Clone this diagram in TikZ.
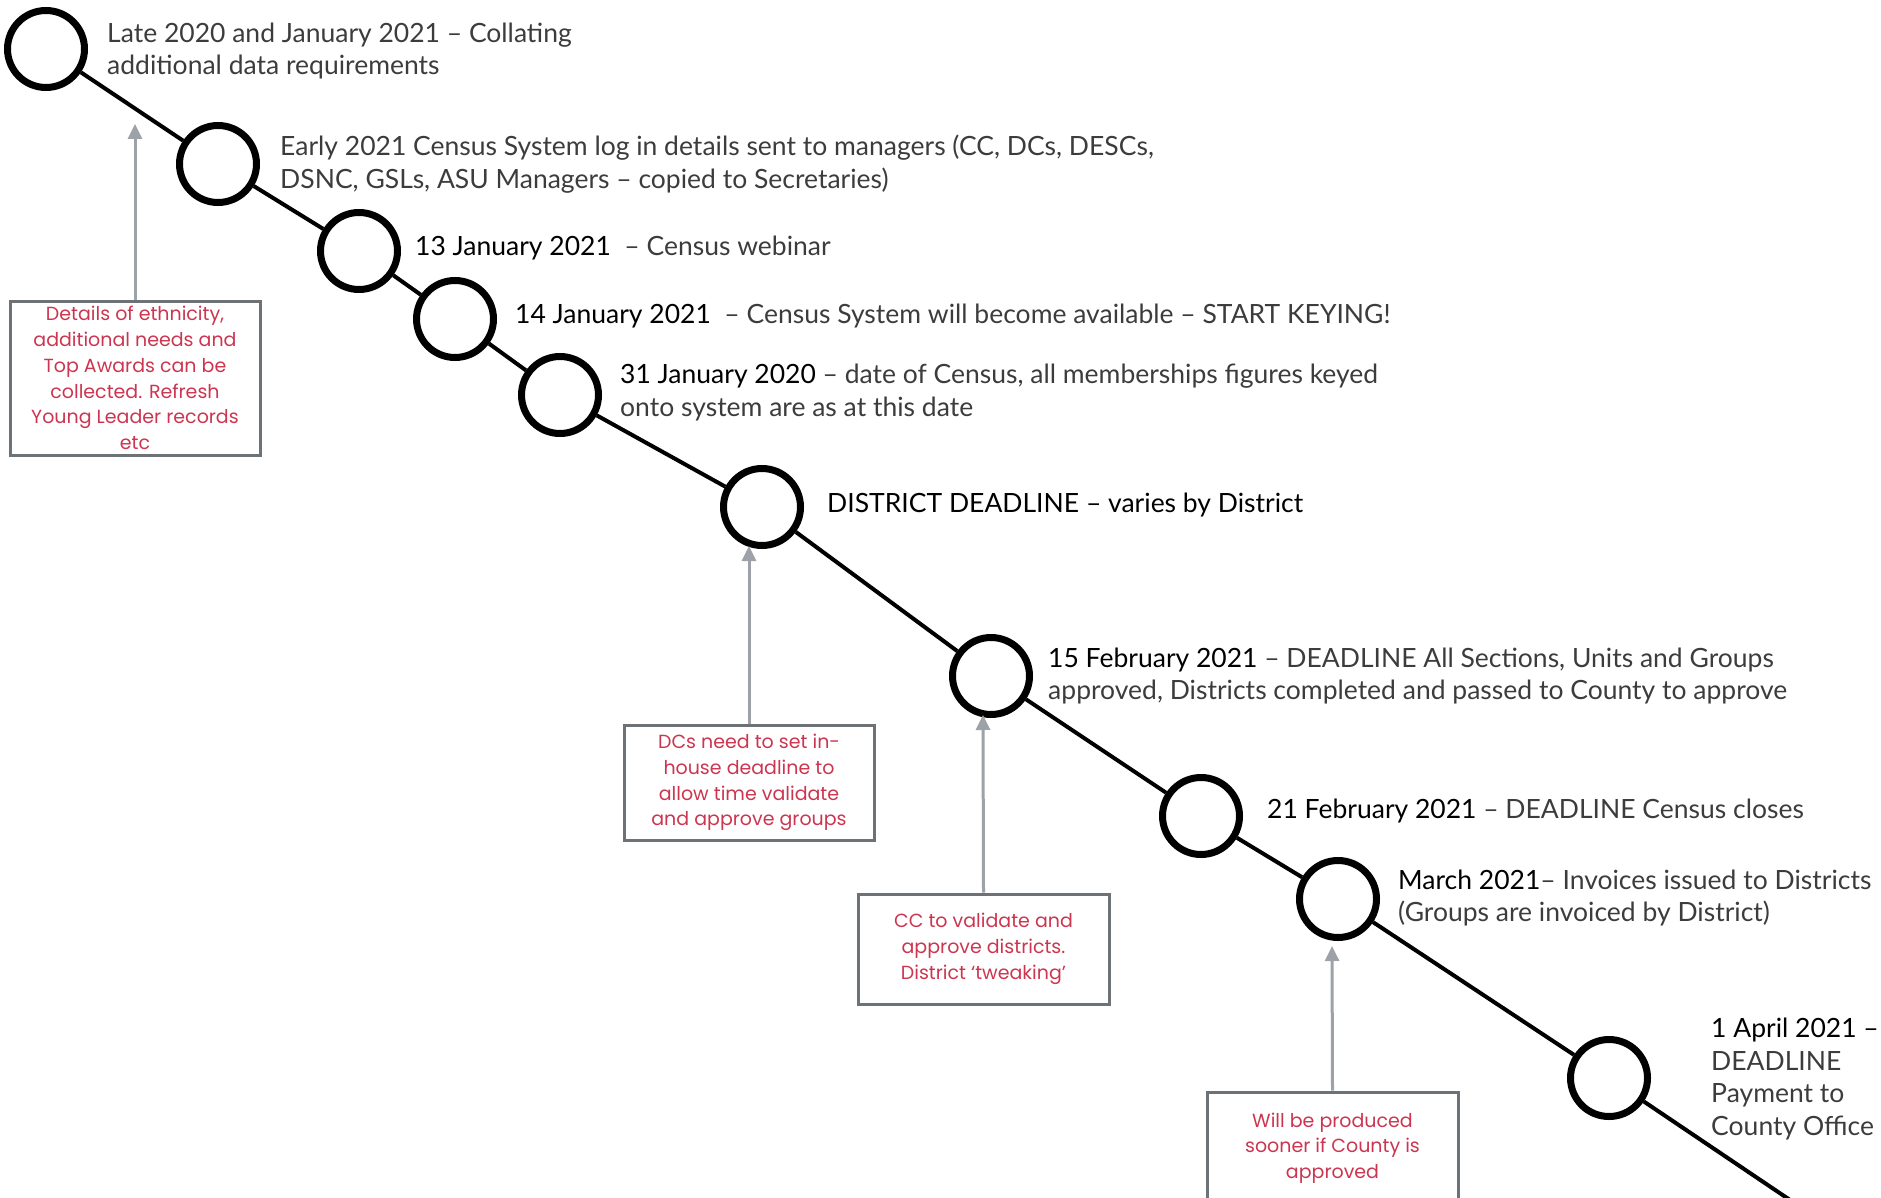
\documentclass[tikz,border=0pt]{standalone}
\usepackage{fontspec}
\setmainfont{Lato}
\newfontfamily\boxfont{Poppins}
\usetikzlibrary{arrows.meta}
\definecolor{txtgray}{HTML}{3C3C3C}
\definecolor{boxred}{HTML}{CC3550}
\definecolor{boxgray}{HTML}{6D7277}
\definecolor{arrgray}{HTML}{9CA2A8}
\begin{document}
\begin{tikzpicture}[x=1pt,y=-1pt,
  event/.style={circle, draw=black, line width=7pt, minimum size=77pt, inner sep=0pt},
  link/.style={line width=4pt, black},
  label/.style={anchor=west, inner sep=0pt, align=left, text=txtgray,
    font=\fontsize{26.5}{32.5}\selectfont},
  note/.style={draw=boxgray, line width=3pt, rectangle, align=center, text=boxred,
    inner sep=0pt, font=\boxfont\fontsize{19}{25.7}\selectfont},
  pointer/.style={draw=arrgray, line width=3pt, -{Triangle[length=15pt,width=14pt]}}
]
\useasboundingbox (0,0) rectangle (1881,1198);

% event circles
\node[event] (c1) at (46,49) {};
\node[event] (c2) at (218,164) {};
\node[event] (c3) at (359,251) {};
\node[event] (c4) at (455,319) {};
\node[event] (c5) at (560,395) {};
\node[event] (c6) at (762,507) {};
\node[event] (c7) at (991,676) {};
\node[event] (c8) at (1201,816) {};
\node[event] (c9) at (1338,899) {};
\node[event] (c10) at (1609,1078) {};
\coordinate (cend) at (1790,1200);

\draw[link] (c1) -- (c2);
\draw[link] (c2) -- (c3);
\draw[link] (c3) -- (c4);
\draw[link] (c4) -- (c5);
\draw[link] (c5) -- (c6);
\draw[link] (c6) -- (c7);
\draw[link] (c7) -- (c8);
\draw[link] (c8) -- (c9);
\draw[link] (c9) -- (c10);
\draw[link] (c10) -- (cend);

% labels
\node[label] (t1) at (107,51) {Late 2020 and January 2021 – Collating\\additional data requirements};
\node[label] (t2) at (280,164) {Early 2021 Census System log in details sent to managers (CC, DCs, DESCs,\\DSNC, GSLs, ASU Managers – copied to Secretaries)};
\node[label] (t3) at (415,248) {\textcolor{black}{13 January 2021}\ \ – Census webinar};
\node[label] (t4) at (515,316) {\textcolor{black}{14 January 2021}\ \ – Census System will become available – START KEYING!};
\node[label] (t5) at (620,392.5) {\textcolor{black}{31 January 2020} – date of Census, all memberships figures keyed\\onto system are as at this date};
\node[label, text=black] (t6) at (827,505) {DISTRICT DEADLINE – varies by District};
\node[label] (t7) at (1048,676) {\textcolor{black}{15 February 2021} – DEADLINE All Sections, Units and Groups\\approved, Districts completed and passed to County to approve};
\node[label] (t8) at (1267,811) {\textcolor{black}{21 February 2021} – DEADLINE Census closes};
\node[label] (t9) at (1398,898) {\textcolor{black}{March 2021}– Invoices issued to Districts\\(Groups are invoiced by District)};
\node[label] (t10) at (1711,1079) {\textcolor{black}{1 April 2021 –}\\DEADLINE\\Payment to\\County Office};

% notes
\node[note, minimum width=250pt, minimum height=154pt] (nA) at (135,378) {Details of ethnicity,\\additional needs and\\Top Awards can be\\collected. Refresh\\Young Leader records\\etc};
\node[note, minimum width=250pt, minimum height=115pt] (nB) at (749,782.5) {DCs need to set in-\\house deadline to\\allow time validate\\and approve groups};
\node[note, minimum width=251pt, minimum height=110pt] (nC) at (983.5,949) {CC to validate and\\approve districts.\\District ‘tweaking’};
\node[note, minimum width=251pt, minimum height=112pt] (nD) at (1332.5,1148) {Will be produced\\sooner if County is\\approved};

\coordinate (pA) at (135,124);
\coordinate (pB) at (749,546);
\coordinate (pC) at (983,715);
\coordinate (pD) at (1332,946);
\draw[pointer] (nA.north) -- (pA);
\draw[pointer] (nB.north) -- (pB);
\draw[pointer] (nC.north) -- (pC);
\draw[pointer] (nD.north) -- (pD);
\end{tikzpicture}
\end{document}
